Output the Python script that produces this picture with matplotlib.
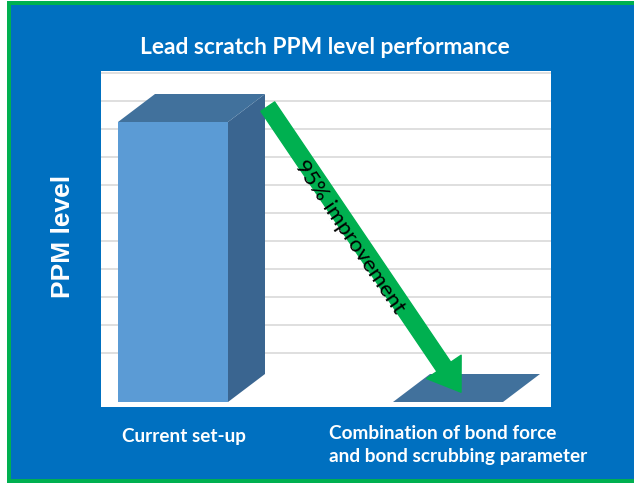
import math
import matplotlib
matplotlib.use("Agg")
import matplotlib.pyplot as plt
from matplotlib.patches import Polygon, Rectangle

# ---------------- data ----------------
categories = ["Current set-up", "Combination of bond force\nand bond scrubbing parameter"]
ppm_values = [100, 0]            # relative PPM level (%)
grid_values = [10, 20, 30, 40, 50, 60, 70, 80, 90, 100, 110]
improvement_label = "95% improvement"
title = "Lead scratch PPM level performance"
ylabel = "PPM level"

# ---------------- style ----------------
W, H, DPI = 634, 485, 100
BG_BLUE = "#0070C0"
GREEN = "#00B050"
FRONT = "#5B9BD5"
TOP = "#41719C"
SIDE = "#3A6590"
FONT = "Lato"

fig = plt.figure(figsize=(W / DPI, H / DPI), dpi=DPI)
fig.patch.set_facecolor(BG_BLUE)

def px_rect(x0, y0, x1, y1, color, z):
    # pixel coords from top-left
    r = Rectangle((x0 / W, 1 - y1 / H), (x1 - x0) / W, (y1 - y0) / H,
                  transform=fig.transFigure, facecolor=color,
                  edgecolor="none", linewidth=0, zorder=z)
    fig.add_artist(r)

# frame: white margin, green border on top/left/bottom
px_rect(0, 0, W, 2, "white", -3)
px_rect(0, 484, W, H, "white", -3)
px_rect(0, 0, 7, H, "white", -3)
px_rect(7, 2, W, 6, GREEN, -2)
px_rect(7, 480, W, 484, GREEN, -2)
px_rect(7, 2, 11, 484, GREEN, -2)

# plot area (white)
ax_l, ax_t, ax_r, ax_b = 101, 72, 551, 408
ax = fig.add_axes([ax_l / W, 1 - ax_b / H, (ax_r - ax_l) / W, (ax_b - ax_t) / H])
ax.set_facecolor("white")
px_per_x = 275.0
px_per_y = 2.8
bar_w = 0.4
x_left = -bar_w / 2 - (118 - ax_l) / px_per_x
ax.set_xlim(x_left, x_left + (ax_r - ax_l) / px_per_x)
y_bot = -(ax_b - 403) / px_per_y
ax.set_ylim(y_bot, y_bot + (ax_b - ax_t) / px_per_y)
for s in ax.spines.values():
    s.set_visible(False)
ax.set_xticks([])
ax.set_yticks([])

depth_dx = 37 / px_per_x
depth_dy = 28 / px_per_y
wall_off = 7.5

for g in grid_values:
    ax.axhline(g + wall_off, color="#D9D9D9", lw=1.2, zorder=1)

for i, v in enumerate(ppm_values):
    x0, x1 = i - bar_w / 2, i + bar_w / 2
    if v > 0:
        ax.add_patch(Polygon([(x0, 0), (x1, 0), (x1, v), (x0, v)],
                             closed=True, facecolor=FRONT, edgecolor="none", zorder=3))
        ax.add_patch(Polygon([(x1, 0), (x1 + depth_dx, depth_dy), (x1 + depth_dx, v + depth_dy), (x1, v)],
                             closed=True, facecolor=SIDE, edgecolor="none", zorder=3))
    ax.add_patch(Polygon([(x0, v), (x1, v), (x1 + depth_dx, v + depth_dy), (x0 + depth_dx, v + depth_dy)],
                         closed=True, facecolor=TOP, edgecolor="none", zorder=3))

# arrow from top of bar 1 to floor of bar 2
start = (0 + bar_w / 2 + depth_dx + 0.01, ppm_values[0] + depth_dy - 4.5)
end = (1 + depth_dx / 2 - 0.02, ppm_values[1] + depth_dy / 2 - 1.5)
ax.annotate("", xy=end, xytext=start,
            arrowprops=dict(arrowstyle="simple,head_length=1.1,head_width=1.5,tail_width=0.6",
                            mutation_scale=20, color=GREEN, shrinkA=0, shrinkB=0),
            zorder=5)

# text along the arrow
p0 = ax.transData.transform(start)
p1 = ax.transData.transform(end)
ang = math.degrees(math.atan2(p1[1] - p0[1], p1[0] - p0[0]))
tx = x_left + (350 - ax_l) / px_per_x
ty = y_bot + (ax_b - 237) / px_per_y
ax.text(tx, ty, improvement_label, rotation=ang, rotation_mode="anchor",
        ha="center", va="center", fontsize=16, family=FONT, color="black", zorder=6)

# titles and labels
fig.text(324.5 / W, 1 - 47 / H, title, ha="center", va="center", color="white",
         fontsize=16.4, fontweight="bold", family=FONT)
fig.text(63 / W, 1 - 236 / H, ylabel, ha="center", va="center", rotation=90,
         color="white", fontsize=19, fontweight="bold", family="Liberation Sans")
fig.text(184 / W, 1 - 437 / H, categories[0], ha="center", va="center",
         color="white", fontsize=13.6, fontweight="bold", family=FONT)
fig.text(329 / W, 1 - 445 / H, categories[1], ha="left", va="center",
         color="white", fontsize=13.7, fontweight="bold", family=FONT, linespacing=1.45)

fig.savefig("out.png", dpi=DPI, facecolor=fig.get_facecolor())
